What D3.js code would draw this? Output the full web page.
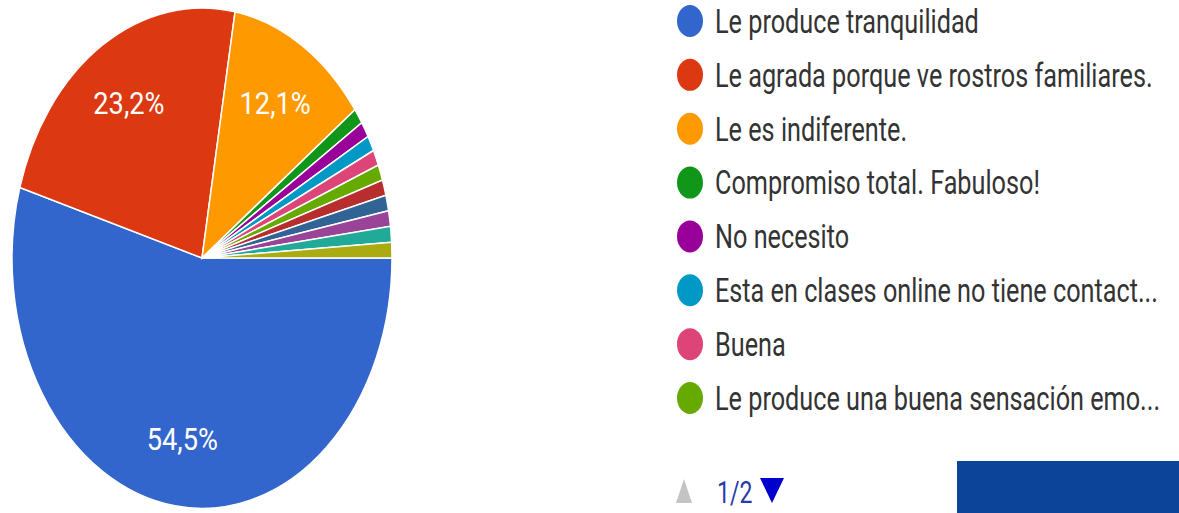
<!DOCTYPE html>
<html>
<head>
<meta charset="utf-8">
<script src="https://cdn.jsdelivr.net/npm/d3@7"></script>
<style>
  body { margin: 0; background: #fff; }
  svg { display: block; }
  text { font-family: Roboto, "Liberation Sans", sans-serif; }
</style>
</head>
<body>
<svg width="1179" height="513"></svg>
<script>
// responses per answer (99 total)
var counts = [54, 23, 12, 1, 1, 1, 1, 1, 1, 1, 1, 1, 1];
var colors = ["#3366cc", "#dc3912", "#ff9900", "#109618", "#990099", "#0099c6",
              "#dd4477", "#66aa00", "#b82e2e", "#316395", "#994499", "#22aa99", "#aaaa11"];
// legend page 1 of 2
var legendLabels = [
  "Le produce tranquilidad",
  "Le agrada porque ve rostros familiares.",
  "Le es indiferente.",
  "Compromiso total. Fabuloso!",
  "No necesito",
  "Esta en clases online no tiene contact...",
  "Buena",
  "Le produce una buena sensación emo..."
];
var pageLabel = "1/2";

var svg = d3.select("svg");
var total = d3.sum(counts);

var cx = 202, cy = 258, rx = 190, ry = 250;

var pie = d3.pie().sort(null).value(function(d){ return d; })
  .startAngle(Math.PI / 2).endAngle(Math.PI / 2 + 2 * Math.PI);
var arcs = pie(counts);
var arc = d3.arc().innerRadius(0).outerRadius(1);

var g = svg.append("g")
  .attr("transform", "translate(" + cx + "," + cy + ") scale(" + rx + "," + ry + ")");

g.selectAll("path")
  .data(arcs)
  .enter()
  .append("path")
  .attr("d", arc)
  .attr("fill", function(d, i){ return colors[i]; })
  .attr("stroke", "#fff")
  .attr("stroke-width", 1.5)
  .attr("vector-effect", "non-scaling-stroke");

var fmt = function(v){ return (v * 100).toFixed(1).replace(".", ",") + "%"; };
var labelR = 0.73;

svg.selectAll(".pct")
  .data(arcs.filter(function(d){ return d.value / total > 0.05; }))
  .enter()
  .append("text")
  .attr("class", "pct")
  .attr("transform", function(d){
    var a = (d.startAngle + d.endAngle) / 2;
    var x = cx + Math.sin(a) * labelR * rx;
    var y = cy - Math.cos(a) * labelR * ry;
    return "translate(" + x + "," + y + ") scale(0.85,1)";
  })
  .attr("text-anchor", "middle")
  .attr("dy", "0.36em")
  .attr("fill", "#fff")
  .attr("font-size", 32)
  .text(function(d){ return fmt(d.value / total); });

// legend
var legendY = d3.scalePoint().domain(d3.range(legendLabels.length)).range([21, 398]);

var leg = svg.selectAll(".leg")
  .data(legendLabels)
  .enter()
  .append("g")
  .attr("class", "leg")
  .attr("transform", function(d, i){ return "translate(690," + legendY(i) + ")"; });

leg.append("ellipse")
  .attr("rx", 13).attr("ry", 16)
  .attr("fill", function(d, i){ return colors[i]; });

leg.append("text")
  .attr("transform", "translate(25,0) scale(0.765,1)")
  .attr("dy", "0.36em")
  .attr("font-size", 33)
  .attr("fill", "#333")
  .text(function(d){ return d; });

// pager
var pager = svg.append("g").attr("transform", "translate(684,491)");
pager.append("path").attr("d", "M-8,12 L0,-12 L8,12 Z").attr("fill", "#c4c4c4");
pager.append("text")
  .attr("transform", "translate(33,0) scale(0.72,1)")
  .attr("dy", "0.36em")
  .attr("font-size", 32)
  .attr("fill", "#2a3aa8")
  .text(pageLabel);
pager.append("path").attr("d", "M76,-13 L100,-13 L88,12 Z").attr("fill", "#0000cc");

// blue box, bottom right
svg.append("rect")
  .attr("x", 957).attr("y", 461)
  .attr("width", 222).attr("height", 52)
  .attr("fill", "#0b4499");
</script>
</body>
</html>
